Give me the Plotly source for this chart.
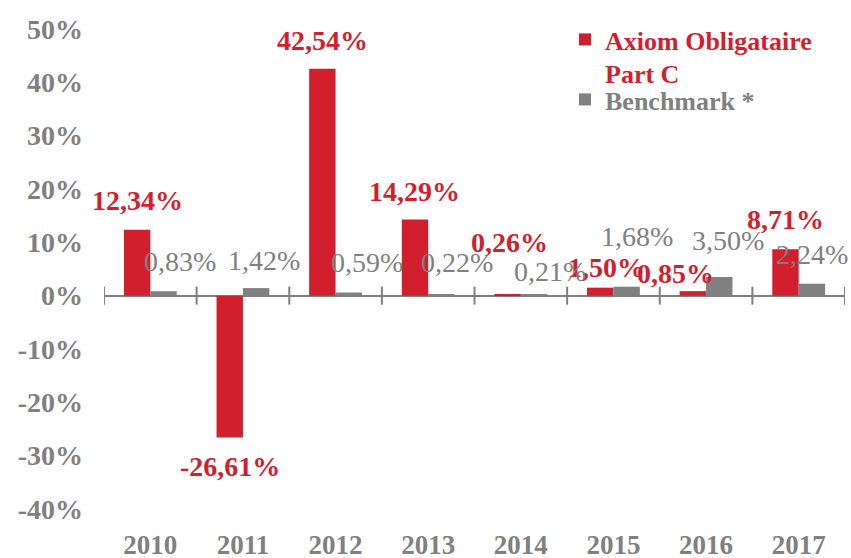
import plotly.graph_objects as go

years = ["2010", "2011", "2012", "2013", "2014", "2015", "2016", "2017"]
axiom = [12.34, -26.61, 42.54, 14.29, 0.26, 1.50, 0.85, 8.71]
bench = [0.83, 1.42, 0.59, 0.22, 0.21, 1.68, 3.50, 2.24]
ytick_vals = [-40, -30, -20, -10, 0, 10, 20, 30, 40, 50]
ytick_text = ["-40%", "-30%", "-20%", "-10%", "0%", "10%", "20%", "30%", "40%", "50%"]

# label pixel offsets (style)
axiom_dx = [0, 0, 0, 0, 2, 6, -17, 0]
axiom_dy = [29, -29, 28, 28, 52, 20, 18, 30]
bench_dx = [16, 8, 18, 16, 16, 10, 9, 0]
bench_dy = [30, 28, 30, 32, 23, 50, 37, 29]

RED = "#d21f2e"
GRAY = "#808080"
FONT = "Liberation Serif"
BARGAP = 0.43

W, H = 851, 558
ML, MR, MT, MB = 104, 6, 29, 49

def fmt(v):
    return f"{v:.2f}".replace(".", ",") + "%"

fig = go.Figure()
fig.add_trace(go.Bar(
    x=years, y=axiom, marker_color=RED, marker_line_width=0, legend="legend",
    name=f"<span style='color:{RED}'><b>Axiom Obligataire<br>Part C</b></span>",
))
fig.add_trace(go.Bar(
    x=years, y=bench, marker_color=GRAY, marker_line_width=0, legend="legend2",
    name=f"<span style='color:{GRAY}'><b>Benchmark *</b></span>",
))

half = (1 - BARGAP) / 4
annotations = []
for i, v in enumerate(axiom):
    annotations.append(dict(
        x=i - half, y=v, xref="x", yref="y", text=f"<b>{fmt(v)}</b>", showarrow=False,
        xshift=axiom_dx[i], yshift=axiom_dy[i],
        font=dict(family=FONT, size=28, color=RED),
    ))
for i, v in enumerate(bench):
    annotations.append(dict(
        x=i + half, y=v, xref="x", yref="y", text=fmt(v), showarrow=False,
        xshift=bench_dx[i], yshift=bench_dy[i],
        font=dict(family=FONT, size=28, color=GRAY),
    ))

shapes = []
for i in range(len(years) + 1):
    shapes.append(dict(
        type="line", xref="x", yref="y", x0=i - 0.5, x1=i - 0.5,
        ysizemode="pixel", yanchor=0, y0=-9, y1=9,
        line=dict(color=GRAY, width=2),
    ))

pw = W - ML - MR
ph = H - MT - MB
legend_common = dict(
    xanchor="left", yanchor="top", valign="top",
    font=dict(family=FONT, size=26), bgcolor="rgba(0,0,0,0)",
    itemclick=False, tracegroupgap=0, itemwidth=30,
)
fig.update_layout(
    width=W, height=H,
    margin=dict(l=ML, r=MR, t=MT, b=MB, autoexpand=False),
    plot_bgcolor="white", paper_bgcolor="white",
    barmode="group", bargap=BARGAP, bargroupgap=0,
    font=dict(family=FONT, color=GRAY),
    annotations=annotations, shapes=shapes,
    showlegend=True,
    legend=dict(x=(565 - ML) / pw, y=1 + (MT - 16) / ph, **legend_common),
    legend2=dict(x=(565 - ML) / pw, y=1 - (76 - MT) / ph, **legend_common),
    xaxis=dict(
        type="category", showgrid=False, showline=False, zeroline=False,
        ticks="outside", ticklen=12, tickcolor="rgba(0,0,0,0)",
        tickfont=dict(family=FONT, size=27, color=GRAY, weight="bold"),
        range=[-0.5, len(years) - 0.5],
    ),
    yaxis=dict(
        range=[-40, 50], tickvals=ytick_vals, ticktext=ytick_text,
        showgrid=False, showline=False,
        zeroline=True, zerolinecolor=GRAY, zerolinewidth=2,
        tickfont=dict(family=FONT, size=28, color=GRAY, weight="bold"),
        ticklabelstandoff=20,
    ),
)

fig.write_html(
    "out.html",
    config={"displayModeBar": False},
    post_script="document.body.style.margin='0';document.body.style.padding='0';",
)
